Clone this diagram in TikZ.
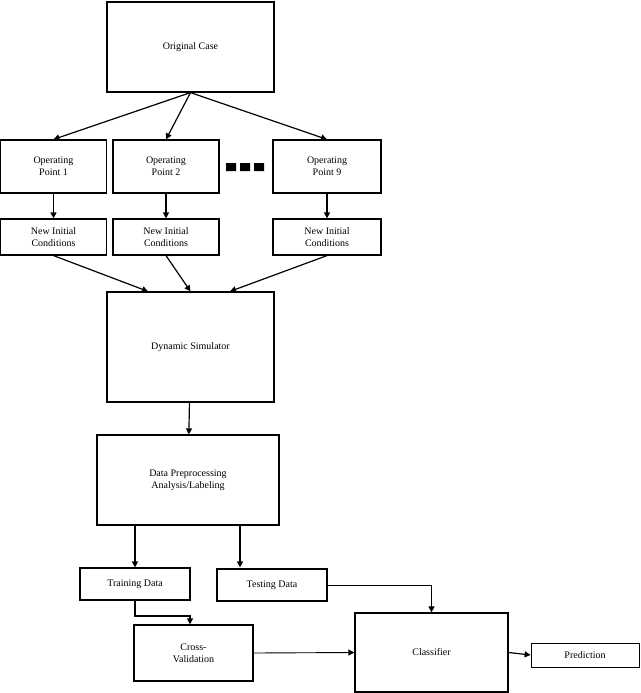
\documentclass[tikz,border=0pt]{standalone}
\usepackage{fontspec}
\setmainfont{Liberation Serif}
\usetikzlibrary{arrows.meta}
\tikzset{every picture/.style={line width=1.2pt}}
\tikzset{blk/.style={draw,rectangle,inner sep=0pt,align=center,font=\fontsize{10}{12}\selectfont},
  arr/.style={-{Triangle[length=6pt,width=6pt]}}}
\begin{document}
\begin{tikzpicture}[x=1pt,y=-1pt]
\useasboundingbox (0,0) rectangle (640,693);

% top
\node[blk,minimum width=167pt,minimum height=90pt] (orig) at (190.5,47) {Original Case};
% operating points
\node[blk,minimum width=106pt,minimum height=53pt] (op1) at (53.5,166.5) {Operating\\Point 1};
\node[blk,minimum width=106pt,minimum height=53pt] (op2) at (166,166.5) {Operating\\Point 2};
\node[blk,minimum width=108pt,minimum height=53pt] (op9) at (327,166.5) {Operating\\Point 9};
\fill (226,163) rectangle (236,171) (240,163) rectangle (250,171) (254,163) rectangle (264,171);
% initial conditions
\node[blk,minimum width=106pt,minimum height=36pt] (nic1) at (53.5,237) {New Initial\\Conditions};
\node[blk,minimum width=106pt,minimum height=36pt] (nic2) at (166,237) {New Initial\\Conditions};
\node[blk,minimum width=108pt,minimum height=36pt] (nic9) at (327,237) {New Initial\\Conditions};
% simulator and processing
\node[blk,minimum width=167pt,minimum height=110pt] (sim) at (190.5,347) {Dynamic Simulator};
\node[blk,minimum width=182pt,minimum height=90pt] (prep) at (188,480) {Data Preprocessing\\Analysis/Labeling};
% data
\node[blk,minimum width=110pt,minimum height=32pt] (train) at (135,584) {Training Data};
\node[blk,minimum width=110pt,minimum height=32pt] (test) at (272,585) {Testing Data};
\node[blk,minimum width=119pt,minimum height=56pt] (cv) at (193.5,653) {Cross-\\Validation};
\node[blk,minimum width=153pt,minimum height=79pt] (clf) at (431.5,652.5) {Classifier};
\node[blk,line width=0.8pt,minimum width=108pt,minimum height=24pt] (pred) at (585,655) {Prediction};

% connectors
\draw[arr] (orig.south) -- (op1.north);
\draw[arr] (orig.south) -- (op2.north);
\draw[arr] (orig.south) -- (op9.north);
\draw[arr] (op1) -- (nic1);
\draw[arr] (op2) -- (nic2);
\draw[arr] (op9) -- (nic9);
\draw[arr] (nic1.south) -- (sim.north -| 148,0);
\draw[arr] (nic2.south) -- (sim.north);
\draw[arr] (nic9.south) -- (sim.north -| 230,0);
\draw[arr] (sim) -- (prep);
\draw[arr] (prep.south -| train.north) -- (train.north);
\draw[arr] (prep.south -| 240,0) -- (train.north -| 240,0);
\draw[arr] (train.south) |- (190,616) -- (cv.north -| 190,0);
\draw[arr,line width=0.9pt] (test.east) -| (clf.north);
\draw[arr,line width=0.9pt] (cv.east) -- (clf.west);
\draw[arr] (clf.east) -- (pred.west);
\end{tikzpicture}
\end{document}
